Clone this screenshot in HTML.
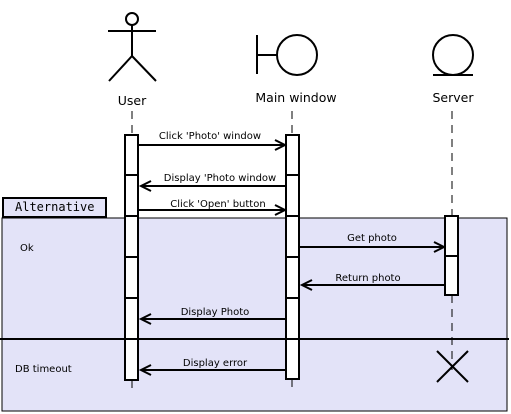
<!DOCTYPE html>
<html><head><style>html,body{margin:0;padding:0;background:#fff;}svg{display:block;}</style></head>
<body>
<svg width="511" height="414" viewBox="0 0 511 414" xmlns="http://www.w3.org/2000/svg" font-family="DejaVu Sans, Liberation Sans, sans-serif">
<rect x="2" y="218" width="505" height="193" fill="#e3e3f8" stroke="#000" stroke-width="1"/>
<line x1="0" y1="339" x2="509" y2="339" stroke="#000" stroke-width="2"/>
<rect x="3" y="198" width="103" height="19" fill="#e3e3f8" stroke="#000" stroke-width="2"/>
<text x="15" y="211" font-family="DejaVu Sans Mono, Liberation Mono, monospace" font-size="12">Alternative</text>
<text x="20" y="251" font-size="10">Ok</text>
<text x="15" y="372" font-size="10">DB timeout</text>
<g stroke="#000" stroke-width="1" stroke-dasharray="8,6">
<line x1="132" y1="111" x2="132" y2="135"/><line x1="132" y1="380" x2="132" y2="392"/>
<line x1="292" y1="111" x2="292" y2="135"/><line x1="292" y1="379" x2="292" y2="392"/>
<line x1="452" y1="111" x2="452" y2="216"/><line x1="452" y1="295" x2="452" y2="370"/>
</g>
<g fill="none" stroke="#000" stroke-width="2">
<circle cx="132" cy="19" r="6"/>
<line x1="108" y1="31" x2="156" y2="31"/><line x1="132" y1="25" x2="132" y2="56"/>
<polyline points="109,81 132,56 156,81"/>
<line x1="257" y1="35" x2="257" y2="74"/><line x1="257" y1="55" x2="277" y2="55"/>
<circle cx="297" cy="55" r="20"/>
<circle cx="453" cy="55" r="20"/><line x1="433" y1="75" x2="473" y2="75"/>
</g>
<g fill="#fff" stroke="#000" stroke-width="2">
<rect x="125" y="135" width="13" height="245"/>
<rect x="286" y="135" width="13" height="244"/>
<rect x="445" y="216" width="13" height="79"/>
</g>
<g stroke="#000" stroke-width="2">
<line x1="125" y1="175" x2="138" y2="175"/><line x1="125" y1="216" x2="138" y2="216"/><line x1="125" y1="257" x2="138" y2="257"/><line x1="125" y1="298" x2="138" y2="298"/><line x1="125" y1="339" x2="138" y2="339"/>
<line x1="286" y1="175" x2="299" y2="175"/><line x1="286" y1="216" x2="299" y2="216"/><line x1="286" y1="257" x2="299" y2="257"/><line x1="286" y1="298" x2="299" y2="298"/><line x1="286" y1="339" x2="299" y2="339"/>
<line x1="445" y1="256" x2="458" y2="256"/>
<line x1="437" y1="351" x2="468" y2="382"/><line x1="468" y1="351" x2="437" y2="382"/>
</g>
<g stroke="#000" stroke-width="2" fill="none">
<line x1="138" y1="145" x2="285" y2="145"/><polyline points="275,140 285,145 275,150"/>
<line x1="286" y1="186" x2="141" y2="186"/><polyline points="151,181 141,186 151,191"/>
<line x1="138" y1="210" x2="285" y2="210"/><polyline points="275,205 285,210 275,215"/>
<line x1="299" y1="247" x2="444" y2="247"/><polyline points="434,242 444,247 434,252"/>
<line x1="445" y1="285" x2="302" y2="285"/><polyline points="312,280 302,285 312,290"/>
<line x1="286" y1="319" x2="141" y2="319"/><polyline points="151,314 141,319 151,324"/>
<line x1="286" y1="370" x2="141" y2="370"/><polyline points="151,365 141,370 151,375"/>
</g>
<g font-size="10" text-anchor="middle">
<text x="210" y="139">Click 'Photo' window</text>
<text x="220" y="181">Display 'Photo window</text>
<text x="218" y="207">Click 'Open' button</text>
<text x="372" y="241">Get photo</text>
<text x="368" y="281">Return photo</text>
<text x="215" y="315">Display Photo</text>
<text x="215" y="366">Display error</text>
</g>
<g font-size="12.5" text-anchor="middle">
<text x="132" y="105">User</text>
<text x="296" y="102">Main window</text>
<text x="453" y="102">Server</text>
</g>
</svg>
</body></html>
